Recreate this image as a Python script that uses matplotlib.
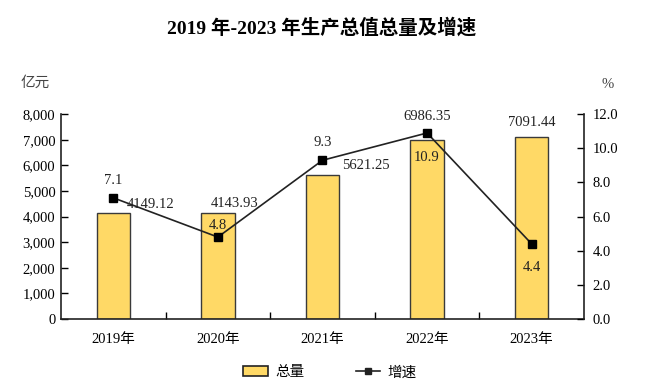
import numpy as np
import matplotlib.pyplot as plt
from matplotlib.lines import Line2D
from matplotlib.patches import Patch

plt.rcParams['font.family'] = ['Liberation Serif', 'Noto Sans CJK SC', 'DejaVu Sans']

years = ['2019年', '2020年', '2021年', '2022年', '2023年']
totals = [4149.12, 4143.93, 5621.25, 6986.35, 7091.44]
growth = [7.1, 4.8, 9.3, 10.9, 4.4]

# label offsets (points) for the value labels
total_offsets = [(27, 1), (12, 2), (31, 2), (0, 12), (0, 6)]
growth_offsets = [(0, 8), (0, 4), (0, 8), (0, -22), (0, -22)]

fig = plt.figure(figsize=(6.6, 3.85), dpi=100)
ax = fig.add_axes([0.0924, 0.1714, 0.7924, 0.532])
x = np.arange(len(years))

ax.bar(x, totals, width=0.32, color='#FFD966', edgecolor='#3a3a3a', linewidth=1.0, zorder=2)
ax.set_ylim(0, 8000)
ax.set_xlim(-0.5, 4.5)
ax.set_yticks(range(0, 8001, 1000))
ax.set_yticklabels([f'{v:,}' for v in range(0, 8001, 1000)], fontsize=10.5)
ax.set_xticks(x)
ax.set_xticklabels(years, fontsize=10.5)
ax.set_xticks(np.arange(0.5, 4.5, 1), minor=True)
ax.tick_params(axis='x', which='major', length=0, pad=10)
ax.tick_params(axis='x', which='minor', direction='in', length=5, width=1)
ax.tick_params(axis='y', direction='in', length=5, width=1, pad=4)
for s in ['top', 'right']:
    ax.spines[s].set_visible(False)
for s in ['left', 'bottom']:
    ax.spines[s].set_linewidth(1.2)
    ax.spines[s].set_color('#222222')

for xi, v, off in zip(x, totals, total_offsets):
    ax.annotate(f'{v:.2f}', (xi, v), xytext=off, textcoords='offset points',
                ha='center', va='bottom', fontsize=10.5, color='#222222')

ax2 = ax.twinx()
ax2.plot(x, growth, color='#222222', linewidth=1.2, marker='s', markersize=6,
         markerfacecolor='black', markeredgecolor='black', zorder=3)
ax2.set_ylim(0, 12)
ax2.set_yticks(np.arange(0, 12.1, 2))
ax2.set_yticklabels([f'{v:.1f}' for v in np.arange(0, 12.1, 2)], fontsize=10.5)
ax2.tick_params(axis='y', direction='in', length=5, width=1, pad=6)
for s in ['top', 'left', 'bottom']:
    ax2.spines[s].set_visible(False)
ax2.spines['right'].set_linewidth(1.2)
ax2.spines['right'].set_color('#222222')

for xi, v, off in zip(x, growth, growth_offsets):
    ax2.annotate(f'{v:.1f}', (xi, v), xytext=off, textcoords='offset points',
                 ha='center', va='bottom', fontsize=10.5, color='#222222')

fig.text(0.488, 0.927, '2019 年-2023 年生产总值总量及增速', ha='center', va='center',
         fontsize=14, fontweight='bold', family=['Liberation Serif', 'Noto Sans CJK SC'])
fig.text(0.053, 0.785, '亿元', ha='center', va='center', fontsize=10.5, color='#444444',
         family=['Noto Sans CJK SC'])
fig.text(0.92, 0.78, '%', ha='center', va='center', fontsize=10.5, color='#444444')

handles = [Patch(facecolor='#FFD966', edgecolor='#222222', linewidth=1.2),
           Line2D([0], [0], color='#222222', marker='s', markersize=5, linewidth=1.2)]
fig.legend(handles, ['总量', '增速'], loc='center', bbox_to_anchor=(0.5, 0.033), ncol=2,
           frameon=False, handlelength=1.7, handletextpad=0.5, columnspacing=3.5,
           prop={'family': ['Noto Sans CJK SC'], 'size': 10.5})

fig.savefig('out.png', dpi=100)
